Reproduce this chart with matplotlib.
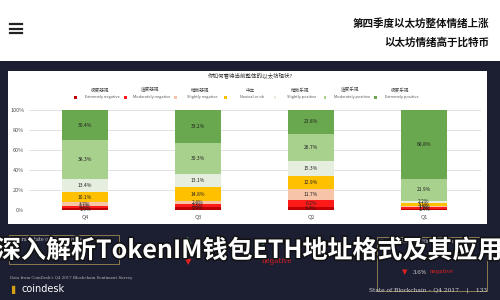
import numpy as np
import matplotlib.pyplot as plt
import matplotlib.patheffects as pe
from matplotlib.patches import Rectangle

plt.rcParams['font.family'] = ['Noto Sans CJK SC', 'DejaVu Sans']

# Data (share of responses, bottom to top)
quarters = ['Q4', 'Q3', 'Q2', 'Q1']
cats_en = ['Extremely negative', 'Moderately negative', 'Slightly negative', 'Neutral or ok',
           'Slightly positive', 'Moderately positive', 'Extremely positive']
cats_cn = ['极度悲观', '适度悲观', '稍微悲观', '中立', '稍微乐观', '适度乐观', '极度乐观']
ext_neg = [1.9, 2.9, 3.4, 1.4]
mod_neg = [2.2, 3.3, 6.2, 1.2]
sli_neg = [3.7, 2.4, 11.7, 1.4]
neutral = [10.1, 14.8, 12.9, 3.1]
sli_pos = [13.4, 13.1, 15.3, 2.2]
mod_pos = [38.3, 30.3, 26.7, 21.9]
ext_pos = [30.4, 33.2, 23.8, 68.8]
colors = ['#c00000', '#ff1a1a', '#f8c4a8', '#ffc000', '#e6eedf', '#a9d18e', '#6aa84f']

navy = '#1c1e32'
fig = plt.figure(figsize=(5, 3), dpi=100)
fig.patch.set_facecolor(navy)

def fx(px):
    return px / 500

def fy(py):
    return 1 - py / 300

# white header band
fig.patches.append(Rectangle((0, fy(61)), 1, 61 / 300, transform=fig.transFigure,
                             facecolor='white', edgecolor='none', zorder=-2))
# hamburger icon
for yy in [24, 28.5, 33]:
    fig.add_artist(plt.Line2D([fx(10), fx(22)], [fy(yy), fy(yy)], color='#222222', lw=1.6))
fig.text(fx(489), fy(24), '第四季度以太坊整体情绪上涨', ha='right', va='center',
         fontsize=7.6, fontweight='bold', color='#111111')
fig.text(fx(489), fy(42), '以太坊情绪高于比特币', ha='right', va='center',
         fontsize=7.6, fontweight='bold', color='#111111')

# white chart panel
fig.patches.append(Rectangle((fx(8), fy(224)), fx(479), (224 - 71) / 300, transform=fig.transFigure,
                             facecolor='white', edgecolor='none', zorder=-2))
fig.text(fx(250), fy(76), '你如何看待当前整体的以太坊现状?', ha='center', va='center',
         fontsize=4, color='#333333')

# legend row
for i in range(7):
    cx = fx(100 + 50 * i)
    fig.text(cx, fy(90), cats_cn[i], ha='center', va='center', fontsize=3.3, color='#444444')
    fig.text(cx + fx(2), fy(97), cats_en[i], ha='center', va='center', fontsize=2.8, color='#555555')
    fig.patches.append(Rectangle((cx - fx(26), fy(98.5)), fx(2.5), 2.5 / 300,
                                 transform=fig.transFigure, facecolor=colors[i], edgecolor='none'))

ax = fig.add_axes([fx(28.5), fy(210), fx(452), 100 / 300])
ax.set_facecolor('none')
x = np.arange(len(quarters))
series = [ext_neg, mod_neg, sli_neg, neutral, sli_pos, mod_pos, ext_pos]
bottom = np.zeros(len(quarters))
for vals, c in zip(series, colors):
    vals = np.array(vals)
    ax.bar(x, vals, 0.4, bottom=bottom, color=c, edgecolor='none', zorder=3)
    for xi, v, b in zip(x, vals, bottom):
        ax.text(xi, b + v / 2, f'{v:.1f}%', ha='center', va='center', fontsize=3.6,
                color='#222222', zorder=4)
    bottom += vals

ax.set_xlim(-0.5, 3.5)
ax.set_ylim(0, 100)
ax.set_yticks(np.arange(0, 101, 20))
ax.set_yticklabels([f'{v}%' for v in range(0, 101, 20)])
ax.set_xticks(x)
ax.set_xticklabels(quarters)
ax.tick_params(length=0, labelsize=4, colors='#555555', pad=3)
ax.grid(axis='y', color='#dddddd', lw=0.6, zorder=0)
for s in ax.spines.values():
    s.set_visible(False)

# lower dark area: summary boxes
gold = '#8b7a4e'
fig.patches.append(Rectangle((fx(9), fy(264)), fx(110), 29 / 300, transform=fig.transFigure,
                             facecolor='none', edgecolor=gold, lw=0.7))
fig.patches.append(Rectangle((fx(377), fy(291)), fx(110), 54 / 300, transform=fig.transFigure,
                             facecolor='none', edgecolor=gold, lw=0.7))
fig.text(fx(12), fy(240), 'Overall state of bitcoin responses', fontsize=3.5, color='#cccccc',
         family='DejaVu Serif', va='center')
fig.text(fx(380), fy(241), 'Overall state of Ethereum responses', fontsize=3.5, color='#cccccc',
         family='DejaVu Serif', va='center')
fig.text(fx(188), fy(240), '▲', fontsize=7, color='#4caf50', ha='center', va='center',
         family='DejaVu Sans')
fig.text(fx(188), fy(262), '▼', fontsize=6, color='#e02020', ha='center', va='center',
         family='DejaVu Sans')
fig.text(fx(405), fy(272), '▼', fontsize=5, color='#e02020', ha='center', va='center',
         family='DejaVu Sans')
fig.text(fx(413), fy(272), '3.6%', fontsize=4, color='#dddddd', va='center', family='DejaVu Serif')
fig.text(fx(430), fy(272), 'negative', fontsize=4, color='#e02020', va='center', family='DejaVu Serif')
fig.text(fx(262), fy(241), 'positive', fontsize=5, color='#4caf50', va='center', family='DejaVu Serif')
fig.text(fx(262), fy(261), 'negative', fontsize=5, color='#e02020', va='center', family='DejaVu Serif')

# overlay title
fig.text(fx(-4), fy(251), '深入解析TokenIM钱包ETH地址格式及其应用', fontsize=18, fontweight='bold',
         color='white', va='center', ha='left',
         path_effects=[pe.withStroke(linewidth=2.2, foreground='#111111')])

# footer
fig.text(fx(10), fy(278), "Data from CoinDesk's Q4 2017 Blockchain Sentiment Survey", fontsize=2.8,
         color='#bbbbbb', family='DejaVu Serif', va='center')
fig.text(fx(11), fy(289), '▌', fontsize=6, color='#d4a017', va='center', family='DejaVu Sans')
fig.text(fx(21), fy(289), 'coindesk', fontsize=7, color='white', va='center', family='DejaVu Sans')
fig.text(fx(487), fy(290), 'State of Blockchain – Q4 2017    |    133', fontsize=4.2, color='#dddddd',
         family='DejaVu Serif', ha='right', va='center')

fig.savefig('out.png', dpi=100, facecolor=fig.get_facecolor())
